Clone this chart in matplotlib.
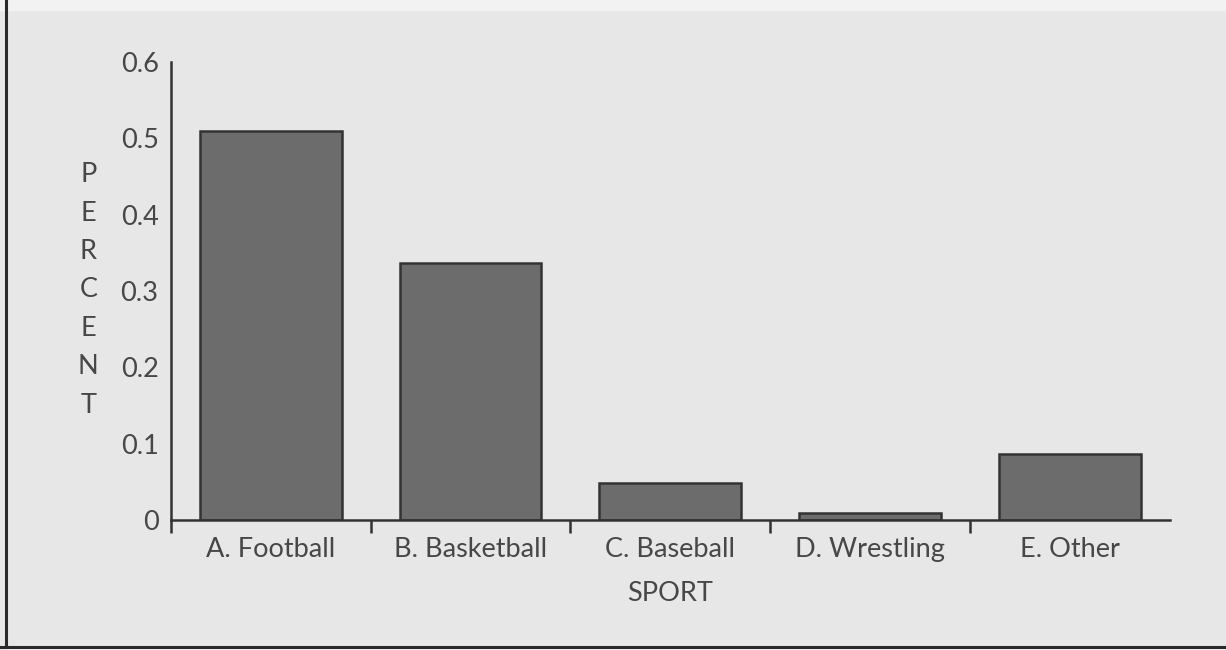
import matplotlib
matplotlib.use('Agg')
import matplotlib.pyplot as plt
from matplotlib.lines import Line2D
from matplotlib.ticker import FixedLocator

# Share of respondents by favourite sport
sports = ['A. Football', 'B. Basketball', 'C. Baseball', 'D. Wrestling', 'E. Other']
percent = [0.51, 0.337, 0.048, 0.009, 0.087]
yticks = [0, 0.1, 0.2, 0.3, 0.4, 0.5, 0.6]
ytick_labels = ['0', '0.1', '0.2', '0.3', '0.4', '0.5', '0.6']

plt.rcParams['font.family'] = ['Lato', 'DejaVu Sans']
text_color = '#474747'
line_color = '#333333'
fs = 19.5

fig = plt.figure(figsize=(12.26, 6.5), dpi=100, facecolor='#e7e7e7')
ax = fig.add_axes([0.1395, 0.2, 0.8145, 0.7046])
ax.set_facecolor('none')

x = list(range(len(sports)))
ax.bar(x, percent, width=0.71, color='#6c6c6c', edgecolor=line_color, linewidth=1.8)

ax.set_xlim(-0.5, len(sports) - 0.5)
ax.set_ylim(0, 0.6)

for side in ['top', 'right']:
    ax.spines[side].set_visible(False)
for side in ['left', 'bottom']:
    ax.spines[side].set_color(line_color)
    ax.spines[side].set_linewidth(1.8)

ax.set_yticks(yticks)
ax.set_yticklabels(ytick_labels)
ax.tick_params(axis='y', length=0, pad=9, labelsize=fs, labelcolor=text_color)

ax.set_xticks(x)
ax.set_xticklabels(sports)
ax.tick_params(axis='x', which='major', length=0, pad=12, labelsize=fs, labelcolor=text_color)
ax.xaxis.set_minor_locator(FixedLocator([i - 0.5 for i in x]))
ax.tick_params(axis='x', which='minor', direction='out', length=9.5, width=1.8, color=line_color)

ax.set_xlabel('SPORT', fontsize=fs, color=text_color, labelpad=14)

# vertical stacked axis title
fig.text(0.072, 0.554, '\n'.join('PERCENT'), ha='center', va='center',
         fontsize=fs, color=text_color, linespacing=1.67)

# scanned-page frame: left rule, bottom rule and pale margins
fig.patches.append(plt.Rectangle((0, 0.985), 1, 0.015, transform=fig.transFigure,
                                 color='#f2f2f2', zorder=-1))
fig.patches.append(plt.Rectangle((0, 0), 1, 0.004, transform=fig.transFigure,
                                 color='#f0f0f0', zorder=-1))
fig.add_artist(Line2D([0.0045, 0.0045], [0.004, 1.0], transform=fig.transFigure,
                      color='#2a2a2a', linewidth=2.2))
fig.add_artist(Line2D([0.0, 1.0], [0.005, 0.005], transform=fig.transFigure,
                      color='#2a2a2a', linewidth=2.2))

fig.savefig('out.png', dpi=100, facecolor=fig.get_facecolor())
